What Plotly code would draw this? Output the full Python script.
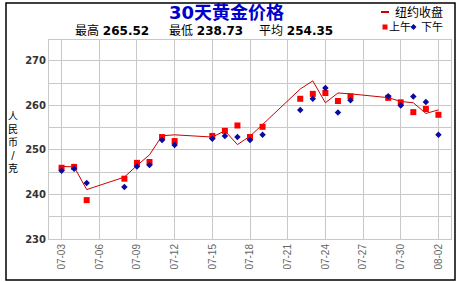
import plotly.graph_objects as go

dates = ["2013-07-03", "2013-07-04", "2013-07-05", "2013-07-08", "2013-07-09", "2013-07-10",
         "2013-07-11", "2013-07-12", "2013-07-15", "2013-07-16", "2013-07-17", "2013-07-18",
         "2013-07-19", "2013-07-22", "2013-07-23", "2013-07-24", "2013-07-25", "2013-07-26",
         "2013-07-29", "2013-07-30", "2013-07-31", "2013-08-01", "2013-08-02"]

ny_close = [246.3, 246.2, 241.1, 243.9, 246.5, 248.9, 253.2, 253.4, 252.9, 254.3, 251.2, 253.1,
            255.7, 263.7, 265.52, 260.6, 262.8, 262.6, 261.75, 260.9, 260.6, 258.2, 259.0]

am_price = [246.0, 246.2, 238.73, 243.55, 247.1, 247.3, 252.9, 252.0, 253.15, 254.3, 255.5, 252.9,
            255.2, 261.5, 262.6, 262.8, 261.0, 262.05, 261.7, 260.7, 258.5, 259.2, 257.9]

pm_price = [245.35, 245.8, 242.6, 241.7, 246.3, 246.6, 252.25, 251.1, 252.5, 253.15, 252.9, 252.25,
            253.4, 259.0, 261.5, 263.9, 258.4, 261.15, 262.05, 260.0, 262.0, 260.8, 253.4]

title_text = "30天黄金价格"
stats = [("最高", "265.52"), ("最低", "238.73"), ("平均", "254.35")]
y_title = "人<br>民<br>币<br>/<br>克"

W, H = 461, 282
ML, MR, MT, MB = 49, 10, 40, 43
PW, PH = W - ML - MR, H - MT - MB


def px(x):
    return (x - ML) / PW


def py(y):
    return (H - MB - y) / PH


fig = go.Figure()
fig.add_trace(go.Scatter(x=dates, y=ny_close, mode="lines", name="纽约收盘",
                         line=dict(color="#CC0000", width=1)))
fig.add_trace(go.Scatter(x=dates, y=am_price, mode="markers", name="上午",
                         marker=dict(symbol="square", color="#FF0000", size=6, line=dict(width=0))))
fig.add_trace(go.Scatter(x=dates, y=pm_price, mode="markers", name="下午",
                         marker=dict(symbol="diamond", color="#0A0AA0", size=5, line=dict(width=0))))

grid = "#C8C8C8"
fig.update_layout(
    width=W, height=H,
    margin=dict(l=ML, r=MR, t=MT, b=MB, pad=0),
    paper_bgcolor="white", plot_bgcolor="white",
    showlegend=False,
    font=dict(family="DejaVu Sans, Noto Sans CJK SC", size=12, color="#000"),
    xaxis=dict(type="date", range=["2013-07-02", "2013-08-03"],
               tick0="2013-07-03", dtick=3 * 86400000, tickformat="%m-%d",
               tickangle=-90, showgrid=True, gridcolor=grid, gridwidth=1,
               showline=True, linecolor=grid, mirror=True, zeroline=False,
               ticks="", tickfont=dict(family="Liberation Sans", size=10, color="#666")),
    yaxis=dict(range=[230, 274.7], tickmode="linear", tick0=230, dtick=10,
               showgrid=True, gridcolor=grid, gridwidth=1,
               minor=dict(dtick=5, tick0=230, showgrid=True, gridcolor=grid, gridwidth=1),
               showline=True, linecolor=grid, mirror=True, zeroline=False, ticks="",
               tickfont=dict(family="DejaVu Sans", size=10, color="#333", weight="bold")),
)

ann = []
ann.append(dict(x=px(226), y=py(13), xref="paper", yref="paper", text="<b>" + title_text + "</b>",
                showarrow=False, xanchor="center", yanchor="middle",
                font=dict(size=18, color="#0000CC", family="DejaVu Sans, Noto Sans CJK SC")))
for (lab, val), x0 in zip(stats, [73, 167, 257]):
    ann.append(dict(x=px(x0), y=py(31), xref="paper", yref="paper",
                    text=lab + " <b>" + val + "</b>", showarrow=False,
                    xanchor="left", yanchor="middle", font=dict(size=12, color="#000")))
ann.append(dict(x=px(394), y=py(13), xref="paper", yref="paper", text="纽约收盘",
                showarrow=False, xanchor="left", yanchor="middle", font=dict(size=12),
                borderpad=0))
ann.append(dict(x=px(388), y=py(27), xref="paper", yref="paper", text="上午",
                showarrow=False, xanchor="left", yanchor="middle", font=dict(size=11),
                borderpad=0))
ann.append(dict(x=px(420), y=py(27), xref="paper", yref="paper", text="下午",
                showarrow=False, xanchor="left", yanchor="middle", font=dict(size=11),
                borderpad=0))
ann.append(dict(x=px(13), y=py(142), xref="paper", yref="paper", text=y_title,
                showarrow=False, xanchor="center", yanchor="middle",
                font=dict(size=10, color="#000")))
fig.update_layout(annotations=ann)

dx, dy = 413.5, 27
diamond = "M {x0},{ym} L {xm},{y0} L {x1},{ym} L {xm},{y1} Z".format(
    x0=px(dx - 3), x1=px(dx + 3), xm=px(dx), ym=py(dy), y0=py(dy - 3), y1=py(dy + 3))

shapes = [
    dict(type="rect", xref="paper", yref="paper", x0=px(6), x1=px(455), y0=py(280), y1=py(3),
         line=dict(color="#000", width=1.5), fillcolor="rgba(0,0,0,0)"),
    dict(type="line", xref="paper", yref="paper", x0=px(381), x1=px(389), y0=py(12), y1=py(12),
         line=dict(color="#CC0000", width=2)),
    dict(type="rect", xref="paper", yref="paper", x0=px(382.5), x1=px(387.5), y0=py(29.5), y1=py(24.5),
         line=dict(width=0), fillcolor="#FF0000"),
    dict(type="path", xref="paper", yref="paper", path=diamond,
         line=dict(width=0), fillcolor="#0A0AA0"),
]
fig.update_layout(shapes=shapes)

fig.write_html("out.html")
